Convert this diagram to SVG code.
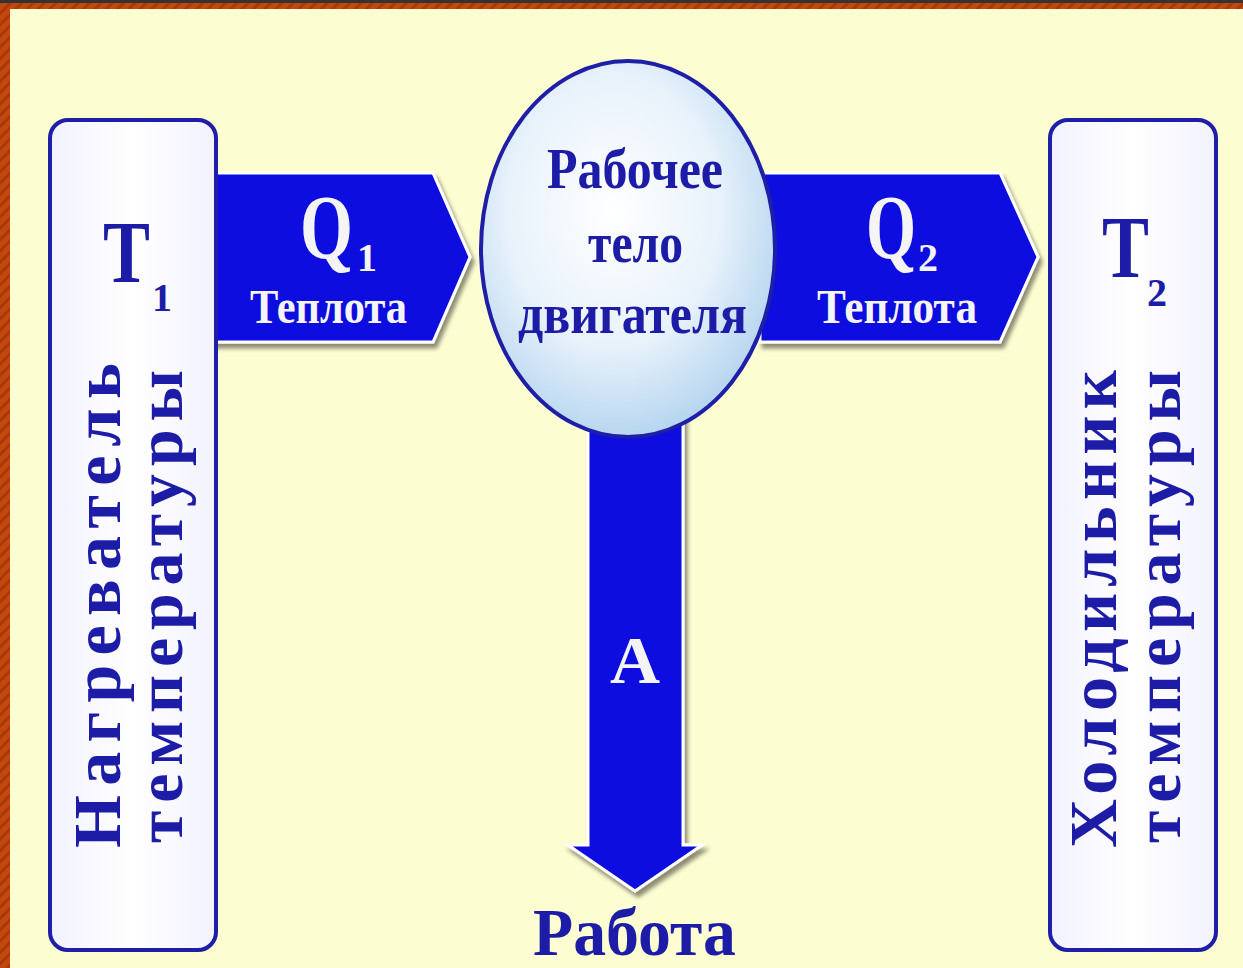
<svg xmlns="http://www.w3.org/2000/svg" width="1243" height="968" viewBox="0 0 1243 968">
  <defs>
    <pattern id="stripes" width="8" height="8" patternUnits="userSpaceOnUse" patternTransform="rotate(45)">
      <rect width="8" height="8" fill="#c4470e"/>
      <rect width="3" height="8" fill="#a83a0a"/>
    </pattern>
    <radialGradient id="ball" cx="0.45" cy="0.4" r="0.6">
      <stop offset="0" stop-color="#ffffff"/>
      <stop offset="0.6" stop-color="#e8f2fb"/>
      <stop offset="1" stop-color="#b8d6f0"/>
    </radialGradient>
    <linearGradient id="boxfill" x1="0" y1="0" x2="1" y2="0">
      <stop offset="0" stop-color="#f2f2ff"/>
      <stop offset="0.5" stop-color="#ffffff"/>
      <stop offset="1" stop-color="#f2f2ff"/>
    </linearGradient>
    <filter id="shadow" x="-10%" y="-10%" width="130%" height="130%">
      <feGaussianBlur in="SourceAlpha" stdDeviation="2"/>
      <feOffset dx="3" dy="5" result="b"/>
      <feComponentTransfer><feFuncA type="linear" slope="0.45"/></feComponentTransfer>
      <feMerge><feMergeNode/><feMergeNode in="SourceGraphic"/></feMerge>
    </filter>
  </defs>
  <style>
    .box { fill: url(#boxfill); stroke: #1e1ea6; stroke-width: 4; }
    .arrow { fill: #0808e0; stroke: #ffffff; stroke-width: 3; stroke-linejoin: miter; }
    .dark { font-family: "Liberation Serif", "DejaVu Serif", serif; font-weight: bold; fill: #1c1ca6; }
    .light { font-family: "Liberation Serif", "DejaVu Serif", serif; font-weight: bold; fill: #f4f4f4; }
  </style>

  <!-- background -->
  <rect x="0" y="0" width="1243" height="968" fill="url(#stripes)"/>
  <rect x="0" y="0" width="1243" height="3" fill="#333333"/>
  <rect x="10" y="9" width="1233" height="959" fill="#fdfdd2"/>

  <!-- connectors -->
  <g id="connectors">
    <g id="q1" filter="url(#shadow)">
      <path class="arrow" d="M210,173 L433,173 L470,257 L433,342 L210,342 Z"/>
    </g>
    <g id="q2" filter="url(#shadow)">
      <path class="arrow" d="M760,173 L1000,173 L1038,257 L1000,342 L760,342 Z"/>
    </g>
    <g id="work" filter="url(#shadow)">
      <path class="arrow" d="M588,400 L683,400 L683,845 L702,845 L635,891 L568,845 L588,845 Z"/>
    </g>
    <text class="light" transform="translate(300,258) scale(0.74,1)" font-size="92">Q</text>
    <text class="light" x="357" y="271" font-size="40">1</text>
    <text class="light" x="250" y="323" font-size="48" textLength="157" lengthAdjust="spacingAndGlyphs">Теплота</text>
    <text class="light" transform="translate(866,258) scale(0.70,1)" font-size="92">Q</text>
    <text class="light" x="918" y="271" font-size="40">2</text>
    <text class="light" x="817" y="323" font-size="48" textLength="160" lengthAdjust="spacingAndGlyphs">Теплота</text>
    <text class="light" x="610" y="683" font-size="68" textLength="50" lengthAdjust="spacingAndGlyphs">А</text>
    <text class="dark" x="533" y="955" font-size="68" textLength="203" lengthAdjust="spacingAndGlyphs">Работа</text>
  </g>

  <!-- heater -->
  <g id="heater">
    <rect class="box" x="50" y="120" width="166" height="830" rx="18" ry="18"/>
    <text class="dark" transform="translate(103,282) scale(0.8,1)" font-size="88">Т</text>
    <text class="dark" x="152" y="311" font-size="40">1</text>
    <text class="dark" transform="translate(120,848) rotate(-90)" font-size="68" textLength="485" lengthAdjust="spacing">Нагреватель</text>
    <text class="dark" transform="translate(182,843) rotate(-90)" font-size="66" textLength="473" lengthAdjust="spacing">температуры</text>
  </g>

  <!-- working body -->
  <g id="body">
    <ellipse cx="628" cy="249" rx="147" ry="188" fill="url(#ball)" stroke="#1e1ea6" stroke-width="4"/>
    <text class="dark" x="547" y="188" font-size="58" textLength="176" lengthAdjust="spacingAndGlyphs">Рабочее</text>
    <text class="dark" x="588" y="262" font-size="58" textLength="95" lengthAdjust="spacingAndGlyphs">тело</text>
    <text class="dark" x="518" y="333" font-size="58" textLength="229" lengthAdjust="spacingAndGlyphs">двигателя</text>
  </g>

  <!-- cooler -->
  <g id="cooler">
    <rect class="box" x="1050" y="120" width="166" height="830" rx="18" ry="18"/>
    <text class="dark" transform="translate(1102,277) scale(0.8,1)" font-size="88">Т</text>
    <text class="dark" x="1147" y="306" font-size="40">2</text>
    <text class="dark" transform="translate(1116,848) rotate(-90)" font-size="68" textLength="478" lengthAdjust="spacing">Холодильник</text>
    <text class="dark" transform="translate(1180,843) rotate(-90)" font-size="66" textLength="473" lengthAdjust="spacing">температуры</text>
  </g>
</svg>
